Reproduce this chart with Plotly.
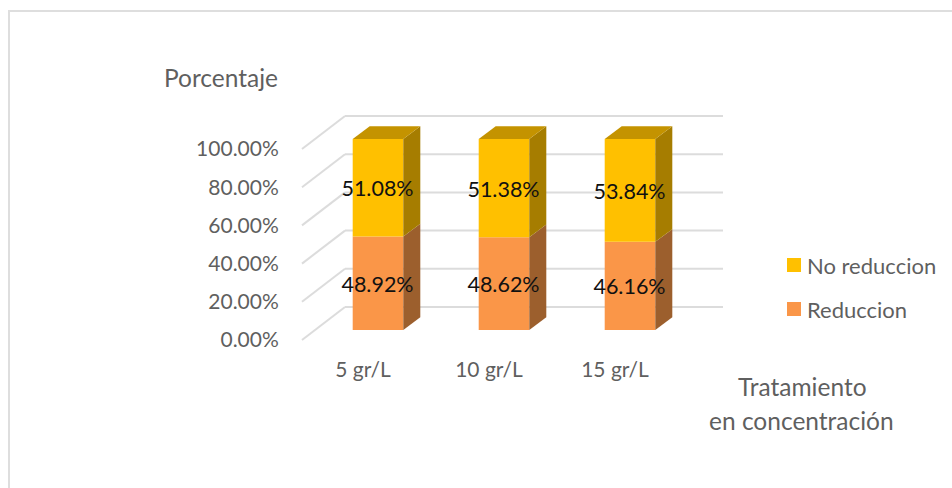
import plotly.graph_objects as go

categories = ["5 gr/L", "10 gr/L", "15 gr/L"]
reduccion = [48.92, 48.62, 46.16]
no_reduccion = [51.08, 51.38, 53.84]
y_ticks = [0, 20, 40, 60, 80, 100]

W, H = 952, 488
L, R, T, B = 290, 730, 100, 350
PX_PER_PCT = 1.91
PX_PER_CAT = 126.0
X0_PX, Y0_PX = 363.0, 340.0

def dx(px): return px / PX_PER_CAT
def dy(px): return px / PX_PER_PCT
def paper_x(px): return (px - L) / (R - L)
def paper_y(py): return (B - py) / (B - T)

FLOOR = dy(10)
BAR_W = dx(50.6)
BAR_SHIFT = dx(15)
DEPTH_X, DEPTH_Y = dx(17), dy(12.7)
WALL_X, WALL_Y = dx(43), dy(33)
WALL_LEFT = dx(302 - X0_PX)
GRID_RIGHT = dx(723 - X0_PX)

ORANGE, ORANGE_SIDE = "#FA9648", "#9C5F2D"
YELLOW, YELLOW_SIDE, YELLOW_TOP = "#FFC000", "#A67D00", "#C49300"
TEXT = "#5F5F5F"
GRID = "#DCDCDC"
FONT = "Lato"

xs = list(range(len(categories)))
fig = go.Figure()

shapes = []
for t in y_ticks:
    shapes.append(dict(type="line", xref="x", yref="y", layer="below",
                       x0=WALL_LEFT, y0=t, x1=WALL_LEFT + WALL_X, y1=t + WALL_Y,
                       line=dict(color=GRID, width=2)))
    shapes.append(dict(type="line", xref="x", yref="y", layer="below",
                       x0=WALL_LEFT + WALL_X, y0=t + WALL_Y, x1=GRID_RIGHT, y1=t + WALL_Y,
                       line=dict(color=GRID, width=2)))
shapes.append(dict(type="path", xref="paper", yref="paper", layer="below",
                   path=f"M {paper_x(9)} {paper_y(490)} L {paper_x(9)} {paper_y(11)} L {paper_x(954)} {paper_y(11)}",
                   line=dict(color="#DEDEDE", width=2)))

fig.add_trace(go.Bar(x=xs, y=reduccion, base=[FLOOR] * 3, name="Reduccion",
                     width=BAR_W, offset=BAR_SHIFT - BAR_W / 2,
                     marker=dict(color=ORANGE, line=dict(width=0)),
                     showlegend=False, hoverinfo="skip"))
fig.add_trace(go.Bar(x=xs, y=no_reduccion, base=[FLOOR + v for v in reduccion], name="No reduccion",
                     width=BAR_W, offset=BAR_SHIFT - BAR_W / 2,
                     marker=dict(color=YELLOW, line=dict(width=0)),
                     showlegend=False, hoverinfo="skip"))

def poly(px, py, color):
    fig.add_trace(go.Scatter(x=px, y=py, mode="lines", fill="toself", fillcolor=color,
                             line=dict(width=0), showlegend=False, hoverinfo="skip"))

for i, r, n in zip(xs, reduccion, no_reduccion):
    xr = i + BAR_SHIFT + BAR_W / 2
    xl = i + BAR_SHIFT - BAR_W / 2
    mid = FLOOR + r
    top = FLOOR + r + n
    poly([xr, xr + DEPTH_X, xr + DEPTH_X, xr, xr],
         [FLOOR, FLOOR + DEPTH_Y, mid + DEPTH_Y, mid, FLOOR], ORANGE_SIDE)
    poly([xr, xr + DEPTH_X, xr + DEPTH_X, xr, xr],
         [mid, mid + DEPTH_Y, top + DEPTH_Y, top, mid], YELLOW_SIDE)
    poly([xl, xl + DEPTH_X, xr + DEPTH_X, xr, xl],
         [top, top + DEPTH_Y, top + DEPTH_Y, top, top], YELLOW_TOP)

label_x = [i + BAR_SHIFT - dx(0.5) for i in xs]
LABEL_NUDGE = dy(-3.2)
fig.add_trace(go.Scatter(x=label_x, y=[FLOOR + r / 2 + LABEL_NUDGE for r in reduccion], mode="text",
                         text=[f"{v:.2f}%" for v in reduccion],
                         textfont=dict(family=FONT, size=21.5, color="#111111"),
                         showlegend=False, hoverinfo="skip", cliponaxis=False))
fig.add_trace(go.Scatter(x=label_x, y=[FLOOR + r + n / 2 + LABEL_NUDGE for r, n in zip(reduccion, no_reduccion)], mode="text",
                         text=[f"{v:.2f}%" for v in no_reduccion],
                         textfont=dict(family=FONT, size=21.5, color="#111111"),
                         showlegend=False, hoverinfo="skip", cliponaxis=False))

def note(text, px, py, size=24.5, anchor="center"):
    return dict(text=text, xref="paper", yref="paper", x=paper_x(px), y=paper_y(py),
                xanchor=anchor, yanchor="middle", showarrow=False, xshift=0,
                font=dict(family=FONT, size=size, color=TEXT))

# legend keys
for name, colour, py in [("No reduccion", YELLOW, 265), ("Reduccion", ORANGE, 309)]:
    shapes.append(dict(type="rect", xref="paper", yref="paper", layer="above",
                       x0=paper_x(787), x1=paper_x(801), y0=paper_y(py - 7), y1=paper_y(py + 7),
                       fillcolor=colour, line=dict(width=0)))

fig.update_layout(
    width=W, height=H, autosize=False,
    margin=dict(l=L, r=W - R, t=T, b=H - B, pad=0),
    paper_bgcolor="white", plot_bgcolor="rgba(0,0,0,0)",
    barmode="overlay", shapes=shapes, showlegend=False,
    font=dict(family=FONT, color=TEXT, size=18),
    xaxis=dict(range=[dx(L - X0_PX), dx(R - X0_PX)], tickmode="array", tickvals=xs, ticktext=categories,
               showgrid=False, zeroline=False, showline=False,
               ticks="outside", ticklen=1, tickcolor="rgba(0,0,0,0)",
               tickfont=dict(family=FONT, size=21, color=TEXT)),
    yaxis=dict(range=[(Y0_PX - B) / PX_PER_PCT, (Y0_PX - T) / PX_PER_PCT], tickmode="array", tickvals=y_ticks,
               ticktext=[f"{t:.2f}%" for t in y_ticks],
               showgrid=False, zeroline=False, showline=False,
               ticks="outside", ticklen=6, tickcolor="rgba(0,0,0,0)",
               tickfont=dict(family=FONT, size=21, color=TEXT)),
    annotations=[
        note("Porcentaje", 221, 78),
        note("Tratamiento", 802, 386),
        note("en concentración", 801, 420),
        note("No reduccion", 805, 265, 22, "left"),
        note("Reduccion", 805, 309, 22, "left"),
    ],
)

fig.write_html("out.html", config=dict(displayModeBar=False),
               post_script="document.body.style.margin='0';")
